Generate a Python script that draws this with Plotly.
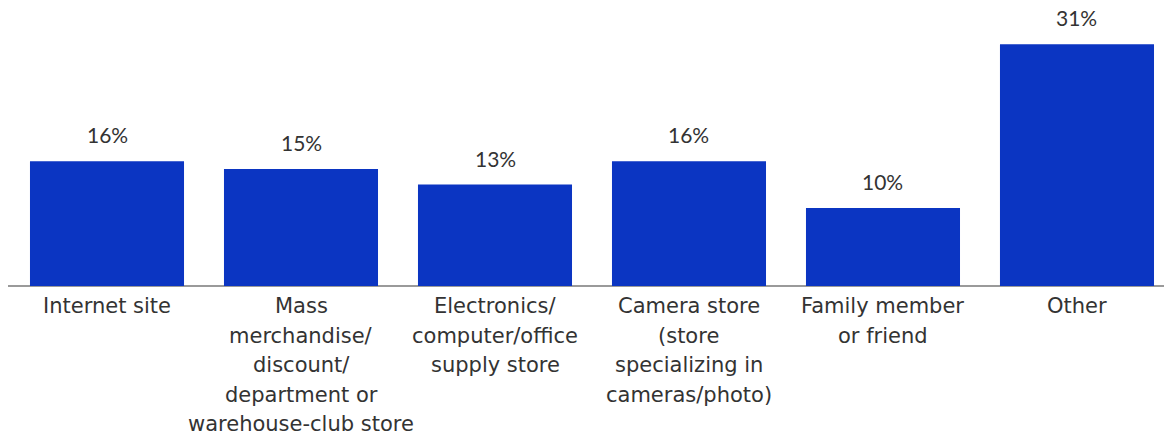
import plotly.graph_objects as go

# Where the product was purchased
categories = [
    "Internet site",
    "Mass<br>merchandise/<br>discount/<br>department or<br>warehouse-club store",
    "Electronics/<br>computer/office<br>supply store",
    "Camera store<br>(store<br>specializing in<br>cameras/photo)",
    "Family member<br>or friend",
    "Other",
]
shares = [16, 15, 13, 16, 10, 31]

BAR_COLOR = "#0b35c2"
TEXT_COLOR = "#333333"
VALUE_FONT = "Lato, 'Open Sans', sans-serif"
CAT_FONT = "'DejaVu Sans', sans-serif"
LINE_STEP = 29.6  # px between lines of a category label

x_idx = list(range(len(categories)))

fig = go.Figure(
    go.Bar(
        x=x_idx,
        y=shares,
        marker=dict(color=BAR_COLOR, line=dict(width=0)),
        width=0.794,
        hoverinfo="skip",
    )
)

annotations = []
# value labels above bars
for i, v in zip(x_idx, shares):
    annotations.append(dict(
        x=i, y=v, xref="x", yref="y", text=f"{v}%", showarrow=False,
        yanchor="bottom", yshift=12,
        font=dict(family=VALUE_FONT, size=21, color=TEXT_COLOR),
    ))
# category labels under the baseline, one line per annotation
for i, cat in zip(x_idx, categories):
    for k, line in enumerate(cat.split("<br>")):
        annotations.append(dict(
            x=i, y=0, xref="x", yref="y", text=line, showarrow=False,
            yanchor="middle", yshift=-(20 + LINE_STEP * k),
            font=dict(family=CAT_FONT, size=21, color=TEXT_COLOR),
        ))

fig.update_layout(
    width=1164,
    height=435,
    margin=dict(l=8, r=0, t=0, b=149),
    paper_bgcolor="white",
    plot_bgcolor="white",
    showlegend=False,
    annotations=annotations,
    xaxis=dict(
        range=[-0.5103, 5.4485],
        showticklabels=False,
        showgrid=False,
        zeroline=False,
        showline=False,
        ticks="",
    ),
    yaxis=dict(
        range=[0, 36.67],
        showticklabels=False,
        showgrid=False,
        zeroline=True,
        zerolinecolor="#9a9a9a",
        zerolinewidth=2,
        showline=False,
        ticks="",
    ),
)

fig.write_html("out.html")
